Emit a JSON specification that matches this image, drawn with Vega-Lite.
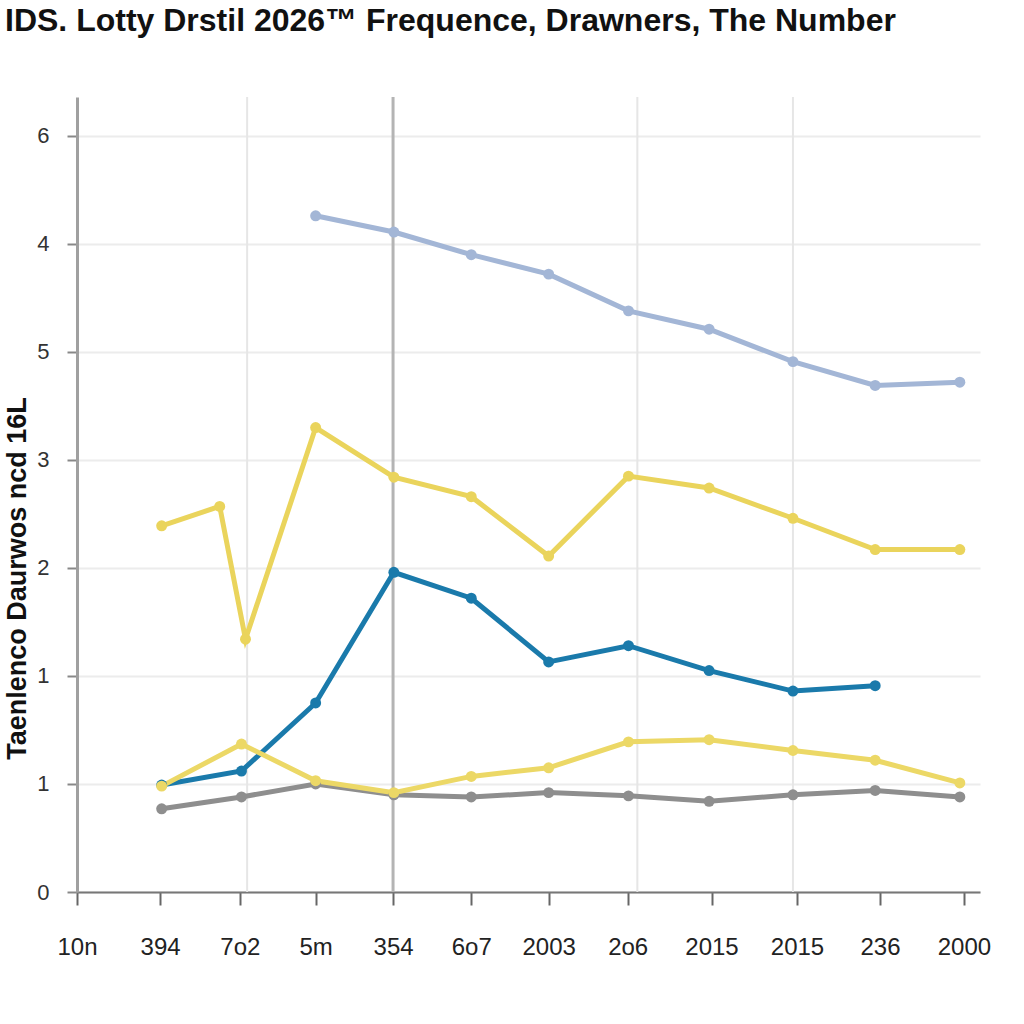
{
  "$schema": "https://vega.github.io/schema/vega-lite/v6.json",
  "width": 903,
  "height": 795,
  "autosize": {"type": "none"},
  "padding": {"left": 77, "top": 97, "right": 44, "bottom": 132},
  "background": "white",
  "title": {
    "text": "IDS. Lotty Drstil 2026\u2122 Frequence, Drawners, The Number",
    "anchor": "start",
    "frame": "group",
    "font": "Liberation Sans",
    "fontWeight": "bold",
    "fontSize": 32,
    "color": "#111111",
    "dx": -72,
    "offset": 26,
    "baseline": "bottom"
  },
  "config": {
    "view": {"stroke": null},
    "axis": {"labelFont": "Liberation Sans", "titleFont": "Liberation Sans"}
  },
  "datasets": {
    "series": [
      {"s": "A", "x": 2.96, "y": 6.26},
      {"s": "A", "x": 3.93, "y": 6.11},
      {"s": "A", "x": 4.89, "y": 5.90},
      {"s": "A", "x": 5.85, "y": 5.72},
      {"s": "A", "x": 6.84, "y": 5.38},
      {"s": "A", "x": 7.84, "y": 5.21},
      {"s": "A", "x": 8.88, "y": 4.91},
      {"s": "A", "x": 9.90, "y": 4.69},
      {"s": "A", "x": 10.95, "y": 4.72},
      {"s": "B", "x": 1.05, "y": 3.39},
      {"s": "B", "x": 1.77, "y": 3.57},
      {"s": "B", "x": 2.09, "y": 2.34},
      {"s": "B", "x": 2.96, "y": 4.30},
      {"s": "B", "x": 3.93, "y": 3.84},
      {"s": "B", "x": 4.89, "y": 3.66},
      {"s": "B", "x": 5.85, "y": 3.11},
      {"s": "B", "x": 6.84, "y": 3.85},
      {"s": "B", "x": 7.84, "y": 3.74},
      {"s": "B", "x": 8.88, "y": 3.46},
      {"s": "B", "x": 9.90, "y": 3.17},
      {"s": "B", "x": 10.95, "y": 3.17},
      {"s": "E", "x": 1.05, "y": 0.77},
      {"s": "E", "x": 2.04, "y": 0.88},
      {"s": "E", "x": 2.96, "y": 1.00},
      {"s": "E", "x": 3.93, "y": 0.90},
      {"s": "E", "x": 4.89, "y": 0.88},
      {"s": "E", "x": 5.85, "y": 0.92},
      {"s": "E", "x": 6.84, "y": 0.89},
      {"s": "E", "x": 7.84, "y": 0.84},
      {"s": "E", "x": 8.88, "y": 0.90},
      {"s": "E", "x": 9.90, "y": 0.94},
      {"s": "E", "x": 10.95, "y": 0.88},
      {"s": "C", "x": 1.05, "y": 0.99},
      {"s": "C", "x": 2.04, "y": 1.12},
      {"s": "C", "x": 2.96, "y": 1.75},
      {"s": "C", "x": 3.93, "y": 2.96},
      {"s": "C", "x": 4.89, "y": 2.72},
      {"s": "C", "x": 5.85, "y": 2.13},
      {"s": "C", "x": 6.84, "y": 2.28},
      {"s": "C", "x": 7.84, "y": 2.05},
      {"s": "C", "x": 8.88, "y": 1.86},
      {"s": "C", "x": 9.90, "y": 1.91},
      {"s": "D", "x": 1.05, "y": 0.98},
      {"s": "D", "x": 2.04, "y": 1.37},
      {"s": "D", "x": 2.96, "y": 1.03},
      {"s": "D", "x": 3.93, "y": 0.92},
      {"s": "D", "x": 4.89, "y": 1.07},
      {"s": "D", "x": 5.85, "y": 1.15},
      {"s": "D", "x": 6.84, "y": 1.39},
      {"s": "D", "x": 7.84, "y": 1.41},
      {"s": "D", "x": 8.88, "y": 1.31},
      {"s": "D", "x": 9.90, "y": 1.22},
      {"s": "D", "x": 10.95, "y": 1.01}
    ]
  },
  "layer": [
    {
      "data": {"values": [{"g": 2.11}, {"g": 6.95}, {"g": 8.88}]},
      "mark": {"type": "rule", "color": "#e6e6e6", "strokeWidth": 2},
      "encoding": {"x": {"field": "g", "type": "quantitative", "scale": {"domain": [0, 11.2], "nice": false, "zero": false}}}
    },
    {
      "data": {"values": [{"g": 3.92}]},
      "mark": {"type": "rule", "color": "#b4b4b4", "strokeWidth": 3},
      "encoding": {"x": {"field": "g", "type": "quantitative"}}
    },
    {
      "data": {"name": "series"},
      "mark": {"type": "line", "strokeWidth": 5, "point": {"filled": true, "size": 120, "opacity": 1}},
      "encoding": {
        "x": {
          "field": "x",
          "type": "quantitative",
          "scale": {"domain": [0, 11.2], "nice": false, "zero": false},
          "axis": {
            "title": null,
            "values": [0, 1.03, 2.02, 2.96, 3.92, 4.89, 5.85, 6.83, 7.87, 8.93, 9.96, 11],
            "labelExpr": "['10n','394','7o2','5m','354','6o7','2003','2o6','2015','2015','236','2000'][indexof([0, 1.03, 2.02, 2.96, 3.92, 4.89, 5.85, 6.83, 7.87, 8.93, 9.96, 11], datum.value)]",
            "grid": false,
            "domainColor": "#777777",
            "domainWidth": 2,
            "tickColor": "#666666",
            "tickWidth": 2,
            "tickSize": 13,
            "labelPadding": 30,
            "labelFontSize": 24,
            "labelColor": "#222222",
            "labelFlush": false,
            "labelOverlap": false
          }
        },
        "y": {
          "field": "y",
          "type": "quantitative",
          "scale": {"domain": [0, 7.36], "nice": false, "zero": true},
          "axis": {
            "title": "Taenlenco Daurwos ncd 16L",
            "titleFontSize": 27,
            "titleFontWeight": "bold",
            "titleColor": "#111111",
            "titleAngle": -90,
            "titleX": -60,
            "titleY": 481,
            "titleAlign": "center",
            "titleBaseline": "middle",
            "values": [0, 1, 2, 3, 4, 5, 6, 7],
            "labelExpr": "['0','1','1','2','3','5','4','6'][datum.value]",
            "grid": true,
            "gridColor": "#ececec",
            "gridWidth": 2,
            "domainColor": "#a0a0a0",
            "domainWidth": 3,
            "tickColor": "#888888",
            "tickWidth": 2,
            "tickSize": 10,
            "labelPadding": 18,
            "labelFontSize": 22,
            "labelColor": "#333333",
            "labelFlush": false,
            "labelOverlap": false
          }
        },
        "color": {
          "field": "s",
          "type": "nominal",
          "legend": null,
          "scale": {"domain": ["A", "B", "C", "D", "E"], "range": ["#a3b6d6", "#ead45c", "#1a7aab", "#ecd866", "#8e8e8e"]}
        },
        "detail": {"field": "s"}
      }
    }
  ]
}
